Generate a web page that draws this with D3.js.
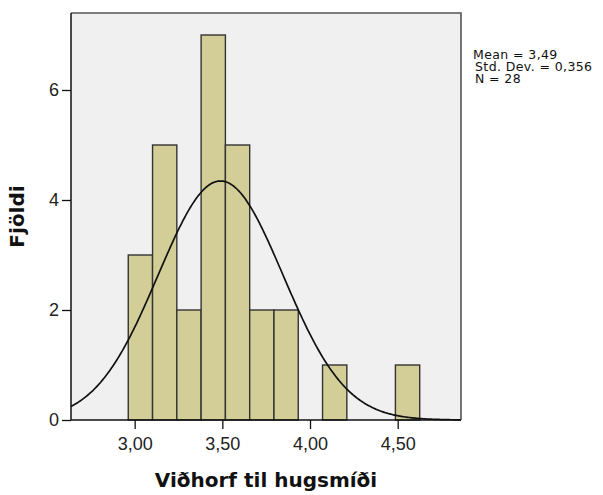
<!DOCTYPE html>
<html><head><meta charset="utf-8">
<script src="https://cdn.jsdelivr.net/npm/d3@7"></script>
<style>body{margin:0;background:#fff}svg{display:block}</style>
</head><body>
<script>
// Data
const binStarts = [2.9635, 3.102, 3.2405, 3.379, 3.5175, 3.656, 3.7945, 3.933, 4.0715, 4.21, 4.3485, 4.487];
const counts    = [3, 5, 2, 7, 5, 2, 2, 0, 1, 0, 0, 1];
const binWidth = 0.1385;
const xTicks = [3.0, 3.5, 4.0, 4.5];
const yTicks = [0, 2, 4, 6];
const stats = { mean: 3.49, sd: 0.356, n: 28 };
const legendLines = ["Mean = 3,49", "Std. Dev. = 0,356", "N = 28"];
const xTitle = "Viðhorf til hugsmíði";
const yTitle = "Fjöldi";

const W = 603, H = 495;
const plot = { left: 71, top: 13, right: 461, bottom: 420 };

const svg = d3.select("body").append("svg").attr("width", W).attr("height", H);

const x = d3.scaleLinear().domain([2.637, 4.861]).range([plot.left, plot.right]);
const y = d3.scaleLinear().domain([0, 7.4]).range([plot.bottom, plot.top]);

// plot background
svg.append("rect").attr("x", plot.left).attr("y", plot.top)
  .attr("width", plot.right - plot.left).attr("height", plot.bottom - plot.top)
  .attr("fill", "#f0f0f0");

// bars
svg.append("g").selectAll("rect").data(binStarts.map((s, i) => ({ s, c: counts[i] })).filter(d => d.c > 0))
  .join("rect")
  .attr("x", d => x(d.s))
  .attr("y", d => y(d.c))
  .attr("width", d => x(d.s + binWidth) - x(d.s))
  .attr("height", d => y(0) - y(d.c))
  .attr("fill", "#d3ce97")
  .attr("stroke", "#333")
  .attr("stroke-width", 1.4);

// normal curve
const scale = stats.n * binWidth / (stats.sd * Math.sqrt(2 * Math.PI));
const xs = d3.range(0, 301).map(i => 2.637 + (4.861 - 2.637) * i / 300);
const line = d3.line().x(d => x(d)).y(d => y(scale * Math.exp(-0.5 * Math.pow((d - stats.mean) / stats.sd, 2))));
svg.append("path").datum(xs).attr("d", line).attr("fill", "none").attr("stroke", "#111").attr("stroke-width", 1.7);

// border top/right
svg.append("path").attr("d", `M${plot.left},${plot.top}H${plot.right}V${plot.bottom}`)
  .attr("fill", "none").attr("stroke", "#555").attr("stroke-width", 1.6);

// axes
const xAxis = d3.axisBottom(x).tickValues(xTicks).tickSize(9).tickPadding(8)
  .tickFormat(d => d3.format(".2f")(d).replace(".", ","));
const gx = svg.append("g").attr("transform", `translate(0,${plot.bottom})`).call(xAxis);
gx.select(".domain").attr("d", `M${plot.left},0H${plot.right}`).attr("stroke", "#111").attr("stroke-width", 1.5);
gx.selectAll(".tick line").attr("stroke", "#111").attr("stroke-width", 1.3);
gx.selectAll("text").attr("font-family", "Liberation Sans, Arial, sans-serif").attr("font-size", 18).attr("fill", "#222");

const yAxis = d3.axisLeft(y).tickValues(yTicks).tickSize(9).tickPadding(3).tickFormat(d3.format("d"));
const gy = svg.append("g").attr("transform", `translate(${plot.left},0)`).call(yAxis);
gy.select(".domain").attr("d", `M0,${plot.top}V${plot.bottom}`).attr("stroke", "#111").attr("stroke-width", 1.5);
gy.selectAll(".tick line").attr("stroke", "#111").attr("stroke-width", 1.3);
gy.selectAll("text").attr("font-family", "Liberation Sans, Arial, sans-serif").attr("font-size", 18).attr("fill", "#222");

// titles
svg.append("text").attr("x", (plot.left + plot.right) / 2).attr("y", 487)
  .attr("text-anchor", "middle").attr("font-family", "DejaVu Sans, Verdana, sans-serif")
  .attr("font-weight", "bold").attr("font-size", 20).attr("fill", "#111").text(xTitle);
svg.append("text").attr("transform", `translate(24,${(plot.top + plot.bottom) / 2}) rotate(-90)`)
  .attr("text-anchor", "middle").attr("font-family", "DejaVu Sans, Verdana, sans-serif")
  .attr("font-weight", "bold").attr("font-size", 20).attr("fill", "#111").text(yTitle);

// legend
svg.append("g").selectAll("text").data(legendLines).join("text")
  .attr("x", (d, i) => i === 0 ? 473 : 475).attr("y", (d, i) => 58.5 + i * 12.2)
  .attr("font-family", "DejaVu Sans, Verdana, sans-serif").attr("font-size", 12.5)
  .attr("letter-spacing", 0.4).attr("fill", "#111")
  .text(d => d);
</script>
</body></html>
